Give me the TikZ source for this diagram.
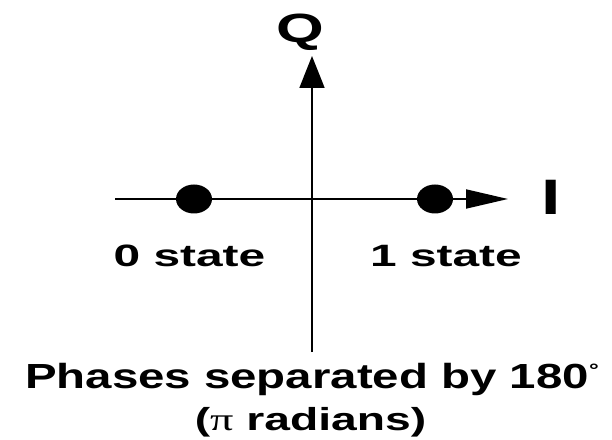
\documentclass[tikz,border=0pt]{standalone}
\usepackage{fontspec}
\setmainfont{Liberation Sans}
\newfontfamily\serifpi{Liberation Serif}
\usetikzlibrary{arrows.meta,shapes.geometric}
\begin{document}
\begin{tikzpicture}[x=1bp,y=-1bp,
  axis/.style={line width=1.8bp},
  dot/.style={ellipse,fill=black,inner sep=0pt,minimum width=36bp,minimum height=29bp},
  lbl/.style={inner sep=0pt,anchor=base}]
\useasboundingbox (0,0) rectangle (612,440);
% axes
\coordinate (hl) at (115,199);
\coordinate (hr) at (508,199);
\coordinate (vb) at (312,352);
\coordinate (vt) at (312,56);
\draw[axis,-{Triangle[length=42bp,width=19bp]}] (hl) -- (hr);
\draw[axis,-{Triangle[length=32bp,width=25bp]}] (vb) -- (vt);
% dots
\node[dot] (d0) at (194,199) {};
\node[dot] (d1) at (435,199) {};
% labels
\node[lbl,xscale=1.5,font=\bfseries\fontsize{41}{41}\selectfont] (Q) at (300.5,43) {Q};
\node[lbl,xscale=1.4,font=\bfseries\fontsize{50}{50}\selectfont] (I) at (551,215) {I};
\node[lbl,xscale=1.55,font=\bfseries\fontsize{31}{31}\selectfont] (s0) at (189.5,267) {0 state};
\node[lbl,xscale=1.55,font=\bfseries\fontsize{31}{31}\selectfont] (s1) at (446,267) {1 state};
\node[lbl,xscale=1.36,font=\bfseries\fontsize{35}{35}\selectfont] (t1) at (312,388) {Phases separated by 180\raisebox{0.34em}{\fontsize{18}{18}\selectfont °}};
\node[lbl,xscale=1.45,font=\bfseries\fontsize{32}{32}\selectfont] (t2) at (310.5,430) {({\serifpi\mdseries π} radians)};
\end{tikzpicture}
\end{document}
